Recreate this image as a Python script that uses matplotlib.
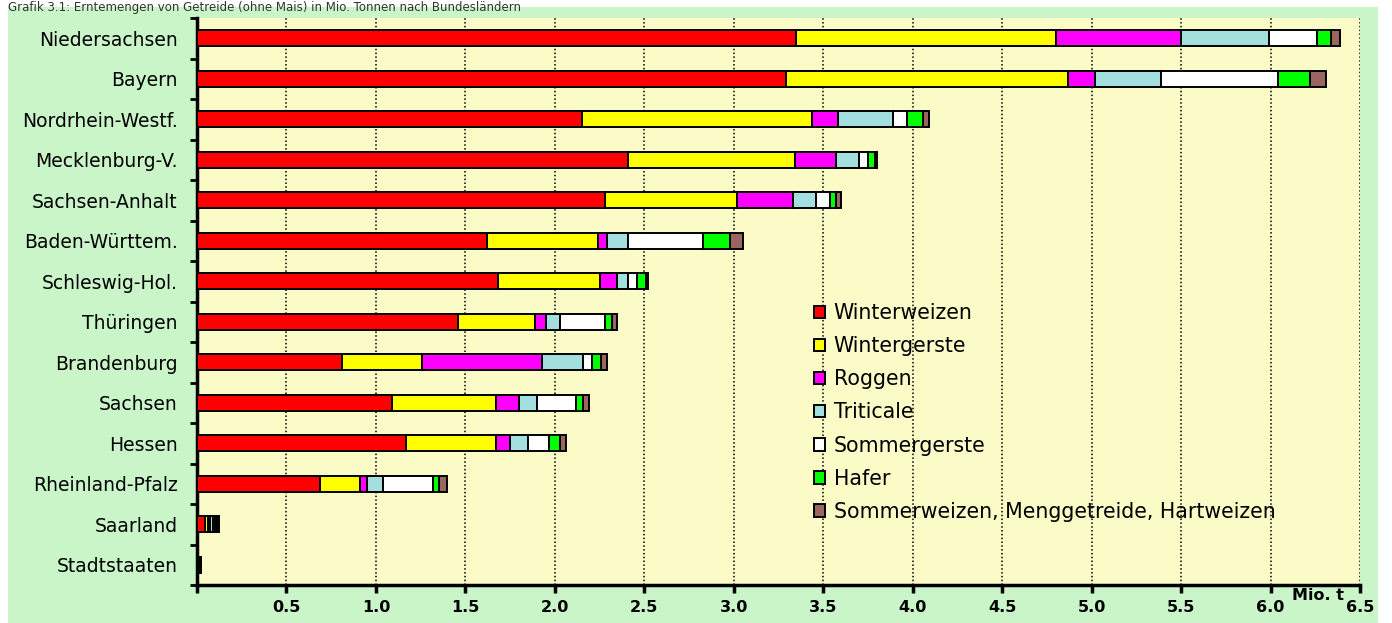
import matplotlib
import matplotlib.pyplot as plt
import numpy as np
from matplotlib.patches import Rectangle

matplotlib.use("Agg")

# Ernte in Mio. t, Reihenfolge von oben nach unten
laender = ["Niedersachsen", "Bayern", "Nordrhein-Westf.", "Mecklenburg-V.",
           "Sachsen-Anhalt", "Baden-Württem.", "Schleswig-Hol.", "Thüringen",
           "Brandenburg", "Sachsen", "Hessen", "Rheinland-Pfalz", "Saarland",
           "Stadtstaaten"]

winterweizen = [3.35, 3.29, 2.15, 2.41, 2.28, 1.62, 1.68, 1.46, 0.81, 1.09, 1.17, 0.69, 0.045, 0.010]
wintergerste = [1.45, 1.58, 1.29, 0.93, 0.74, 0.62, 0.57, 0.43, 0.45, 0.58, 0.50, 0.22, 0.015, 0.005]
roggen = [0.70, 0.15, 0.14, 0.23, 0.31, 0.05, 0.10, 0.06, 0.67, 0.13, 0.08, 0.04, 0.015, 0.002]
triticale = [0.49, 0.37, 0.31, 0.13, 0.13, 0.12, 0.06, 0.08, 0.23, 0.10, 0.10, 0.09, 0.012, 0.002]
sommergerste = [0.27, 0.65, 0.08, 0.05, 0.08, 0.42, 0.05, 0.25, 0.05, 0.22, 0.12, 0.28, 0.012, 0.002]
hafer = [0.08, 0.18, 0.09, 0.04, 0.03, 0.15, 0.05, 0.04, 0.05, 0.04, 0.06, 0.03, 0.012, 0.002]
sonstige = [0.05, 0.09, 0.03, 0.01, 0.03, 0.07, 0.01, 0.03, 0.03, 0.03, 0.03, 0.05, 0.010, 0.001]

serien = [
    ("Winterweizen", winterweizen, "#ff0000"),
    ("Wintergerste", wintergerste, "#ffff00"),
    ("Roggen", roggen, "#ff00ff"),
    ("Triticale", triticale, "#a4dfe0"),
    ("Sommergerste", sommergerste, "#ffffff"),
    ("Hafer", hafer, "#00ff00"),
    ("Sommerweizen, Menggetreide, Hartweizen", sonstige, "#9c6660"),
]

x_ticks = [0.5, 1.0, 1.5, 2.0, 2.5, 3.0, 3.5, 4.0, 4.5, 5.0, 5.5, 6.0, 6.5]
x_ticklabels = ["0.5", "1.0", "1.5", "2.0", "2.5", "3.0", "3.5", "4.0", "4.5", "5.0", "5.5", "6.0", "6.5"]

W, H = 1392, 623
fig = plt.figure(figsize=(W / 100, H / 100), dpi=100, facecolor="white")

# gruener Rahmen hinter allem
fig.patches.append(Rectangle((8 / W, 0), 1370 / W, 1 - 7 / H, transform=fig.transFigure,
                             facecolor="#c9f5c9", edgecolor="none", zorder=-10))

# Ueberschrift (im Original oben angeschnitten)
fig.text(8 / W, 1 - 1 / H, "Grafik 3.1: Erntemengen von Getreide (ohne Mais) in Mio. Tonnen nach Bundesländern",
         fontsize=8.5, color="#333333", va="top", ha="left")

ax = fig.add_axes([197 / W, 1 - 585 / H, (1360 - 197) / W, (585 - 18) / H])
ax.set_facecolor("#fafbc6")

y = np.arange(len(laender))
left = np.zeros(len(laender))
handles = []
for name, werte, farbe in serien:
    b = ax.barh(y, werte, left=left, height=0.4, color=farbe, edgecolor="black",
                linewidth=1.4, zorder=3, label=name)
    left += np.array(werte)
    handles.append(b)

ax.set_xlim(0, 6.5)
ax.set_ylim(13.5, -0.5)

ax.set_xticks(x_ticks)
ax.set_xticklabels(x_ticklabels, fontsize=11.5, fontweight="bold")
ax.tick_params(axis="x", direction="out", length=6, width=2.5, pad=5)
ax.set_xticks([0], minor=True)
ax.tick_params(axis="x", which="minor", direction="out", length=6, width=2.5)

ax.set_yticks(y)
ax.set_yticklabels(laender, fontsize=13.5)
ax.tick_params(axis="y", length=0, pad=14)
ax.set_yticks(np.arange(-0.5, 14, 1), minor=True)
ax.tick_params(axis="y", which="minor", direction="out", length=5, width=2)

ax.grid(axis="x", color="black", linestyle=(0, (1, 1.5)), linewidth=1.1, zorder=1)
ax.set_axisbelow(True)

for s in ["top", "right"]:
    ax.spines[s].set_visible(False)
for s in ["left", "bottom"]:
    ax.spines[s].set_linewidth(2.5)

fig.text(1318 / W, 1 - 595 / H, "Mio. t", fontsize=11.5, fontweight="bold",
         ha="center", va="center")

ax.legend(handles=handles, loc="upper left", bbox_to_anchor=(814 / W, 1 - 303 / H),
          bbox_transform=fig.transFigure, frameon=False, fontsize=14.8,
          handlelength=0.55, handleheight=0.55, handletextpad=0.4,
          labelspacing=0.64, borderpad=0, borderaxespad=0)

fig.savefig("out.png", dpi=100)
